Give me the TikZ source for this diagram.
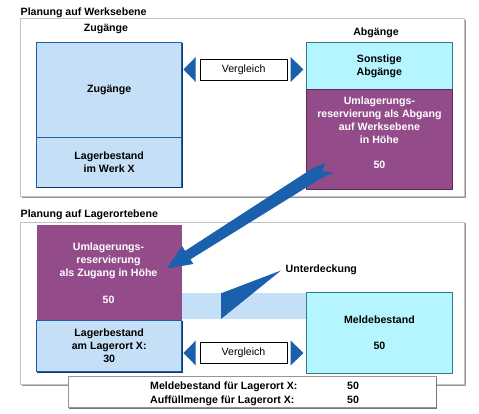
\documentclass[tikz,border=0pt]{standalone}
\usepackage{fontspec}
\setmainfont{Liberation Sans}
\usetikzlibrary{calc}
\definecolor{lblue}{RGB}{197,223,247}
\definecolor{bblue}{RGB}{30,96,168}
\definecolor{navy}{RGB}{16,58,110}
\definecolor{cyanb}{RGB}{180,245,255}
\definecolor{tealb}{RGB}{40,128,128}
\definecolor{purp}{RGB}{147,76,137}
\definecolor{purpd}{RGB}{95,42,88}
\definecolor{arrblue}{RGB}{26,96,172}
\definecolor{framegray}{RGB}{195,195,195}
\definecolor{shadowgray}{RGB}{150,150,150}
\begin{document}
\begin{tikzpicture}[x=1pt,y=-1pt,
  txt/.style={font=\bfseries\fontsize{10.6}{13}\selectfont, align=center, inner sep=0pt},
  regtxt/.style={font=\fontsize{10.6}{13}\selectfont, inner sep=0pt},
  wtxt/.style={txt, text=white},
  area/.style={anchor=north west, inner sep=0pt, outer sep=0pt},
  frm/.style={area, draw=framegray, line width=1pt},
  bluebox/.style={area, fill=lblue, draw=bblue, line width=0.8pt, txt},
  cyanbox/.style={area, fill=cyanb, draw=tealb, line width=0.8pt, txt},
  purbox/.style={area, fill=purp},
  vbox/.style={area, fill=white, draw=black, line width=0.8pt, regtxt},
  sumbox/.style={area, fill=white, draw=shadowgray, line width=1pt},
  shd/.style={line width=1.3pt},
]
\useasboundingbox (0,0) rectangle (479,414);
\fill[white] (0,0) rectangle (479,414);

% ---------- upper frame ----------
\node[txt, anchor=base west] (t1) at (20.5,16) {Planung auf Werksebene};
\node[frm, minimum width=444pt, minimum height=177.7pt] (frame1) at (20.7,19) {};
\draw[shadowgray, line width=0.8pt] ($(frame1.north east)+(0.9,1)$) -- ($(frame1.south east)+(0.9,0.9)$) -- ($(frame1.south west)+(1,0.9)$);

\node[txt, anchor=base] (hz) at (106,32) {Zugänge};
\node[txt, anchor=base] (ha) at (376,35.5) {Abgänge};

\node[bluebox, minimum width=145pt, minimum height=94.6pt] (zug) at (36.7,42.7) {Zugänge};
\node[bluebox, minimum width=145pt, minimum height=49.7pt] (lagw) at (36.7,137.3) {Lagerbestand\\im Werk X};
\draw[navy, shd] ($(zug.north east)+(0.6,0)$) -- ($(lagw.south east)+(0.6,0.6)$) -- ($(lagw.south west)+(0,0.6)$);

\node[cyanbox, minimum width=146.7pt, minimum height=47pt] (son) at (306,42.3) {Sonstige\\Abgänge};
\node[purbox, minimum width=146.7pt, minimum height=100pt, draw=purpd, line width=0.6pt] (pur1) at (306,89.3) {};
\node[wtxt] (pt1) at (379.4,120.5) {Umlagerungs-\\reservierung als Abgang\\auf Werksebene\\in Höhe};
\node[wtxt, anchor=base] (p50a) at (379.4,169) {50};

\node[vbox, minimum width=87.3pt, minimum height=21.4pt] (v1) at (200,59.3) {Vergleich};
\fill[arrblue] (183.5,69.5) -- (195.7,57) -- (195.7,82) -- cycle;
\fill[arrblue] (290.7,57) -- (303.3,69.5) -- (290.7,82) -- cycle;

% ---------- lower frame ----------
\node[txt, anchor=base west] (t2) at (20.5,218) {Planung auf Lagerortebene};
\node[frm, minimum width=444pt, minimum height=161.7pt] (frame2) at (20.7,222.3) {};
\draw[shadowgray, line width=0.8pt] ($(frame2.north east)+(0.9,1)$) -- ($(frame2.south east)+(0.9,0.9)$) -- ($(frame2.south west)+(1,0.9)$);

\node[area, fill=lblue, minimum width=124.3pt, minimum height=26pt] (band) at (181.7,293) {};

\node[purbox, minimum width=145pt, minimum height=95.7pt] (pur2) at (36.7,225) {};
\node[wtxt] (pt2) at (108.5,260.7) {Umlagerungs-\\reservierung\\als Zugang in Höhe};
\node[wtxt, anchor=base] (p50b) at (108.5,303) {50};

\node[bluebox, minimum width=145pt, minimum height=51pt] (lago) at (36.7,320.7) {Lagerbestand\\am Lagerort X:\\30};
\draw[navy, shd] ($(lago.north east)+(0.6,0)$) -- ($(lago.south east)+(0.6,0.6)$) -- ($(lago.south west)+(0,0.6)$);

\node[cyanbox, minimum width=146.7pt, minimum height=81pt] (meld) at (306,292.3) {};
\node[txt, anchor=base] (mt) at (379.4,323) {Meldebestand};
\node[txt, anchor=base] (m50) at (379.4,349) {50};

\node[vbox, minimum width=87pt, minimum height=21.3pt] (v2) at (200,342) {Vergleich};
\fill[arrblue] (183.5,353) -- (195.7,340.5) -- (195.7,365.5) -- cycle;
\fill[arrblue] (290.7,340.5) -- (303.3,353) -- (290.7,365.5) -- cycle;

% Unterdeckung wedge
\node[txt, anchor=base west] (unt) at (285.5,272) {Unterdeckung};
\fill[arrblue] (221,293.3) -- (221,319) -- (281,270.5) -- cycle;

% big transfer arrow
\fill[arrblue] (166.7,268.5) -- (193.4,264) -- (190.5,259.3) -- (320.5,178.7)
   -- (333.3,172.7) -- (322.5,171) -- (325,163.3) -- (313.5,167.7)
   -- (185.1,250.9) -- (182.2,246.2) -- cycle;

% summary box
\node[sumbox, minimum width=367.7pt, minimum height=31pt] (sum) at (68.3,376.7) {};
\draw[shadowgray!80!black, line width=1pt] ($(sum.north east)+(0.8,1)$) -- ($(sum.south east)+(0.8,0.8)$) -- ($(sum.south west)+(1,0.8)$);
\node[txt, anchor=base west] (s1) at (150,389.5) {Meldebestand für Lagerort X:};
\node[txt, anchor=base west] (s1v) at (347,389.5) {50};
\node[txt, anchor=base west] (s2) at (150,403) {Auffüllmenge für Lagerort X:};
\node[txt, anchor=base west] (s2v) at (347,403) {50};
\end{tikzpicture}
\end{document}
